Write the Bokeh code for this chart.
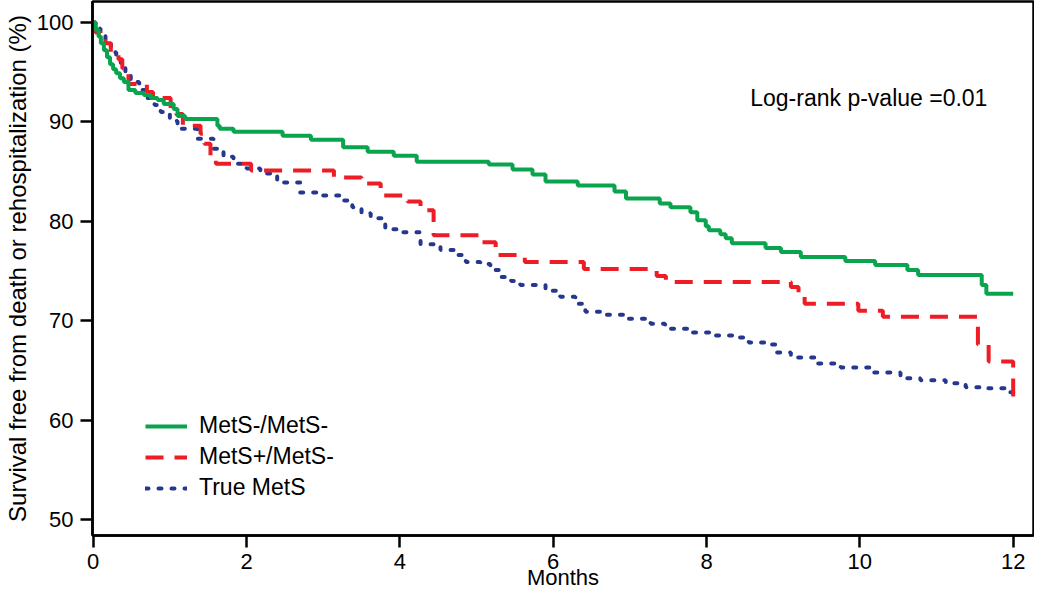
from bokeh.plotting import figure
from bokeh.models import Legend, LegendItem, Label, FixedTicker, Range1d
from bokeh.embed import file_html
from bokeh.resources import INLINE

# ---- data ----
x_ticks = [0, 2, 4, 6, 8, 10, 12]
y_ticks = [50, 60, 70, 80, 90, 100]

series_names = ["MetS-/MetS-", "MetS+/MetS-", "True MetS"]

green_t = [0, 0.03, 0.07, 0.1, 0.14, 0.18, 0.22, 0.26, 0.3, 0.35,
           0.4, 0.46, 0.55, 0.66, 0.75, 0.84, 0.92, 1.05, 1.1, 1.2,
           1.62, 1.65, 1.83, 2.47, 2.84, 3.26, 3.58, 3.92, 4.22, 5.16,
           5.47, 5.73, 5.9, 6.32, 6.8, 6.95, 7.39, 7.53, 7.79, 7.88,
           7.99, 8.03, 8.18, 8.25, 8.33, 8.77, 8.97, 9.23, 9.81, 10.2,
           10.62, 10.76, 11.59, 11.65, 12.0]
green_s = [100, 99.3, 98.6, 97.9, 97.2, 96.5, 95.8, 95.3, 94.9, 94.4,
           94.0, 93.2, 92.9, 92.7, 92.4, 92.2, 91.8, 91.3, 90.6, 90.3,
           89.6, 89.3, 89.0, 88.6, 88.2, 87.45, 87.0, 86.6, 86.0, 85.7,
           85.2, 84.7, 84.0, 83.6, 83.0, 82.3, 81.8, 81.4, 80.9, 80.1,
           79.5, 79.1, 78.7, 78.3, 77.8, 77.3, 76.9, 76.4, 76.0, 75.6,
           75.1, 74.6, 73.6, 72.7, 72.7]

red_t = [0, 0.03, 0.1, 0.16, 0.23, 0.33, 0.38, 0.46, 0.7, 0.78,
         1.01, 1.08, 1.17, 1.4, 1.45, 1.53, 1.6, 2.06, 3.14, 3.5,
         3.75, 4.1, 4.27, 4.44, 5.07, 5.25, 5.63, 6.4, 7.35, 7.47,
         9.1, 9.2, 9.28, 9.98, 10.3, 11.54, 11.68, 12.0]
red_s = [100, 99.0, 98.5, 97.9, 97.0, 96.3, 95.4, 93.8, 93.0, 92.4,
         91.3, 90.8, 89.6, 88.8, 87.8, 86.6, 85.8, 85.1, 84.4, 83.8,
         82.6, 82.0, 81.1, 78.6, 77.9, 76.6, 75.9, 75.2, 74.5, 73.9,
         73.4, 72.5, 71.7, 71.0, 70.4, 67.6, 65.9, 62.3]

blue_t = [0, 0.03, 0.095, 0.16, 0.23, 0.3, 0.36, 0.42, 0.49, 0.6,
          0.7, 0.8, 0.88, 1.0, 1.1, 1.36, 1.57, 1.7, 1.83, 2.0,
          2.18, 2.4, 2.7, 2.97, 3.23, 3.38, 3.5, 3.62, 3.81, 4.01,
          4.27, 4.53, 4.73, 4.86, 5.05, 5.18, 5.31, 5.45, 5.57, 5.9,
          6.09, 6.29, 6.42, 6.62, 6.94, 7.27, 7.46, 7.79, 8.08, 8.38,
          8.55, 8.84, 8.9, 9.1, 9.42, 9.75, 10.14, 10.53, 10.79, 11.12,
          11.38, 11.64, 11.9, 12.0]
blue_s = [100, 99.4, 98.7, 97.9, 97.0, 96.3, 95.6, 95.0, 94.0, 93.2,
          92.4, 91.7, 91.0, 90.1, 89.3, 88.3, 87.3, 86.5, 85.8, 85.3,
          84.8, 83.9, 82.9, 82.6, 82.1, 81.4, 80.8, 80.3, 79.2, 78.9,
          77.7, 77.1, 76.6, 75.9, 75.7, 75.1, 74.4, 74.0, 73.6, 73.0,
          72.4, 71.7, 70.9, 70.6, 70.2, 69.7, 69.2, 68.8, 68.5, 68.3,
          67.8, 67.6, 66.8, 66.3, 65.7, 65.3, 64.8, 64.2, 64.0, 63.7,
          63.3, 63.2, 62.8, 62.1]

pvalue_text = "Log-rank p-value =0.01"
x_title = "Months"
y_title = "Survival free from death or rehospitalization (%)"

FONT = "Liberation Sans"
GREEN = "#0aa44e"
RED = "#ee1c25"
BLUE = "#26388e"

p = figure(width=1034, height=596,
           x_range=Range1d(-0.009, 12.265), y_range=Range1d(48.39, 102.11),
           output_backend="svg", toolbar_location=None,
           min_border_left=92, min_border_right=1,
           min_border_top=1, min_border_bottom=61)

p.xgrid.visible = False
p.ygrid.visible = False
p.outline_line_color = "black"
p.outline_line_width = 2.5
p.outline_line_alpha = 1.0
p.background_fill_color = "white"
p.border_fill_color = "white"

p.xaxis.ticker = FixedTicker(ticks=x_ticks)
p.yaxis.ticker = FixedTicker(ticks=y_ticks)
for ax in (p.xaxis[0], p.yaxis[0]):
    ax.axis_line_width = 2.5
    ax.axis_line_color = "black"
    ax.major_tick_line_width = 2.5
    ax.major_tick_line_color = "black"
    ax.major_tick_out = 12
    ax.major_tick_in = 0
    ax.minor_tick_out = 0
    ax.minor_tick_in = 0
    ax.major_label_text_font = FONT
    ax.major_label_text_font_size = "22px"
    ax.major_label_text_color = "black"
    ax.axis_label_text_font = FONT
    ax.axis_label_text_font_style = "normal"
    ax.axis_label_text_color = "black"

p.xaxis.major_label_standoff = 6
p.xaxis.axis_label = x_title
p.xaxis.axis_label_text_font_size = "22px"
p.xaxis.axis_label_standoff = -7

p.yaxis.major_label_standoff = 7
p.yaxis.axis_label = y_title
p.yaxis.axis_label_text_font_size = "24px"
p.yaxis.axis_label_standoff = 3

r_blue = p.step(blue_t, blue_s, mode="after", line_color=BLUE, line_width=4,
                line_dash="3 10", line_cap="round")
r_red = p.step(red_t, red_s, mode="after", line_color=RED, line_width=4,
               line_dash="18 11")
r_green = p.step(green_t, green_s, mode="after", line_color=GREEN, line_width=4)

legend = Legend(items=[LegendItem(label=series_names[0], renderers=[r_green]),
                       LegendItem(label=series_names[1], renderers=[r_red]),
                       LegendItem(label=series_names[2], renderers=[r_blue])],
                location=(53, 34), padding=0, margin=0, spacing=4,
                glyph_width=42, glyph_height=24, label_height=24,
                label_standoff=12, label_text_font=FONT,
                label_text_font_size="23px", label_text_color="black",
                border_line_alpha=0, background_fill_alpha=0)
p.add_layout(legend)

p.add_layout(Label(x=8.57, y=92.45, text=pvalue_text, text_font=FONT,
                   text_font_size="23px", text_color="black",
                   text_baseline="alphabetic", text_align="left"))

open("out.html", "w").write(file_html(p, INLINE))
